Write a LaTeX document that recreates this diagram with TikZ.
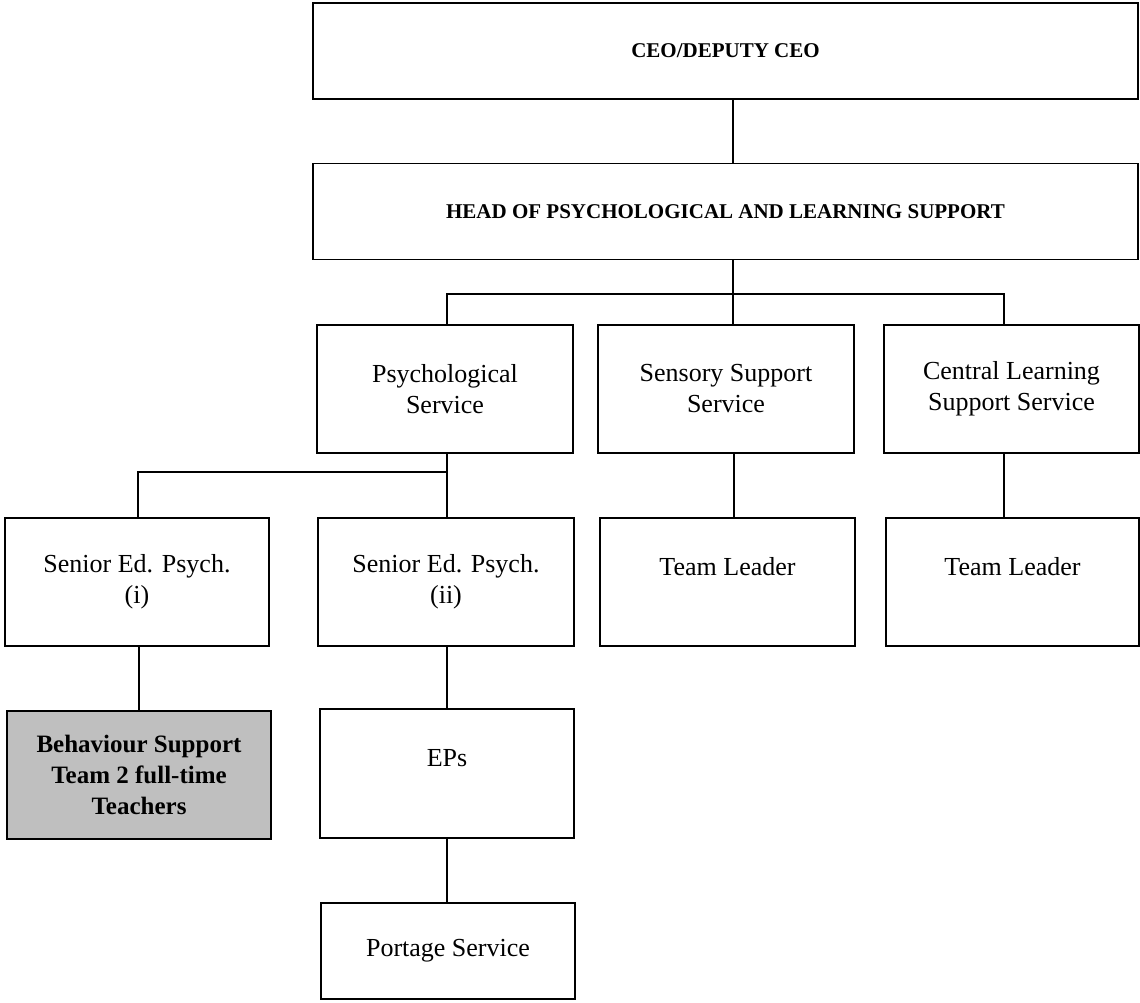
\documentclass[tikz,border=0pt]{standalone}
\usepackage{fontspec}
\setmainfont{Liberation Serif}
\begin{document}
\begin{tikzpicture}[x=1pt,y=-1pt,
  box/.style={draw=black, line width=1.8pt, rectangle, inner sep=0pt, align=center,
    font=\fontsize{26}{31}\selectfont},
  topbox/.style={box, minimum width=825pt, minimum height=96pt,
    font=\fontsize{21}{25}\selectfont\bfseries},
  unit/.style={box, minimum width=256pt, minimum height=128pt},
  shaded/.style={unit, fill=black!25, font=\fontsize{25}{31}\selectfont\bfseries},
  leaf/.style={box, minimum width=254pt, minimum height=96pt},
  wire/.style={line width=2.4pt}]
\useasboundingbox (0,0) rectangle (1140,1002);

% management levels
\node[topbox] (ceo)  at (725.5,51)  {CEO/DEPUTY CEO};
\node[topbox] (head) at (725.5,211.5) {HEAD OF PSYCHOLOGICAL AND LEARNING SUPPORT};

% services
\node[unit] (psych) at (445,389)    {Psychological\\Service};
\node[unit] (sens)  at (726,389)    {Sensory Support\\Service};
\node[unit, minimum width=255pt] (cls) at (1011.5,389) {Central Learning\\Support Service};

% second tier
\node[unit, minimum width=264pt] (sen1) at (137,582) {Senior Ed. Psych.\\(i)};
\node[unit] (sen2) at (446,582)   {Senior Ed. Psych.\\(ii)};
\node[unit, minimum width=255pt] (tl1) at (727.5,582) {Team Leader\\\mbox{}};
\node[unit, minimum width=253pt] (tl2) at (1012.5,582) {Team Leader\\\mbox{}};

% third tier
\node[shaded, minimum width=264pt] (beh) at (139,775) {Behaviour Support\\Team 2 full-time\\Teachers};
\node[unit, minimum width=254pt, minimum height=129pt] (eps) at (447,773.5) {EPs\\\mbox{}};
\node[leaf] (port) at (448,951) {Portage Service};

% connector anchor points on the spines
\coordinate (c1) at ([xshift=7.5pt]ceo.south);
\coordinate (c2) at ([xshift=2pt]psych.south);
\coordinate (c3) at ([xshift=8pt]sens.south);
\coordinate (c4) at ([xshift=-7.5pt]cls.south);

% connectors
\draw[wire] (c1) -- (c1 |- head.north);
\draw[wire] (c1 |- head.south) -- (c1 |- sens.north);
\draw[wire] (c2 |- psych.north) -- ++(0,-30) -| (c4 |- cls.north);
\draw[wire] (c3) -- (c3 |- tl1.north);
\draw[wire] (c4) -- (c4 |- tl2.north);
\draw[wire] (c2) -- ++(0,18) -| ([xshift=1pt]sen1.north);
\draw[wire] (c2) -- (c2 |- sen2.north);
\draw[wire] ([xshift=2pt]sen1.south) -- ([xshift=2pt]sen1.south |- beh.north);
\draw[wire] (c2 |- sen2.south) -- (c2 |- eps.north);
\draw[wire] (c2 |- eps.south) -- (c2 |- port.north);
\end{tikzpicture}
\end{document}
